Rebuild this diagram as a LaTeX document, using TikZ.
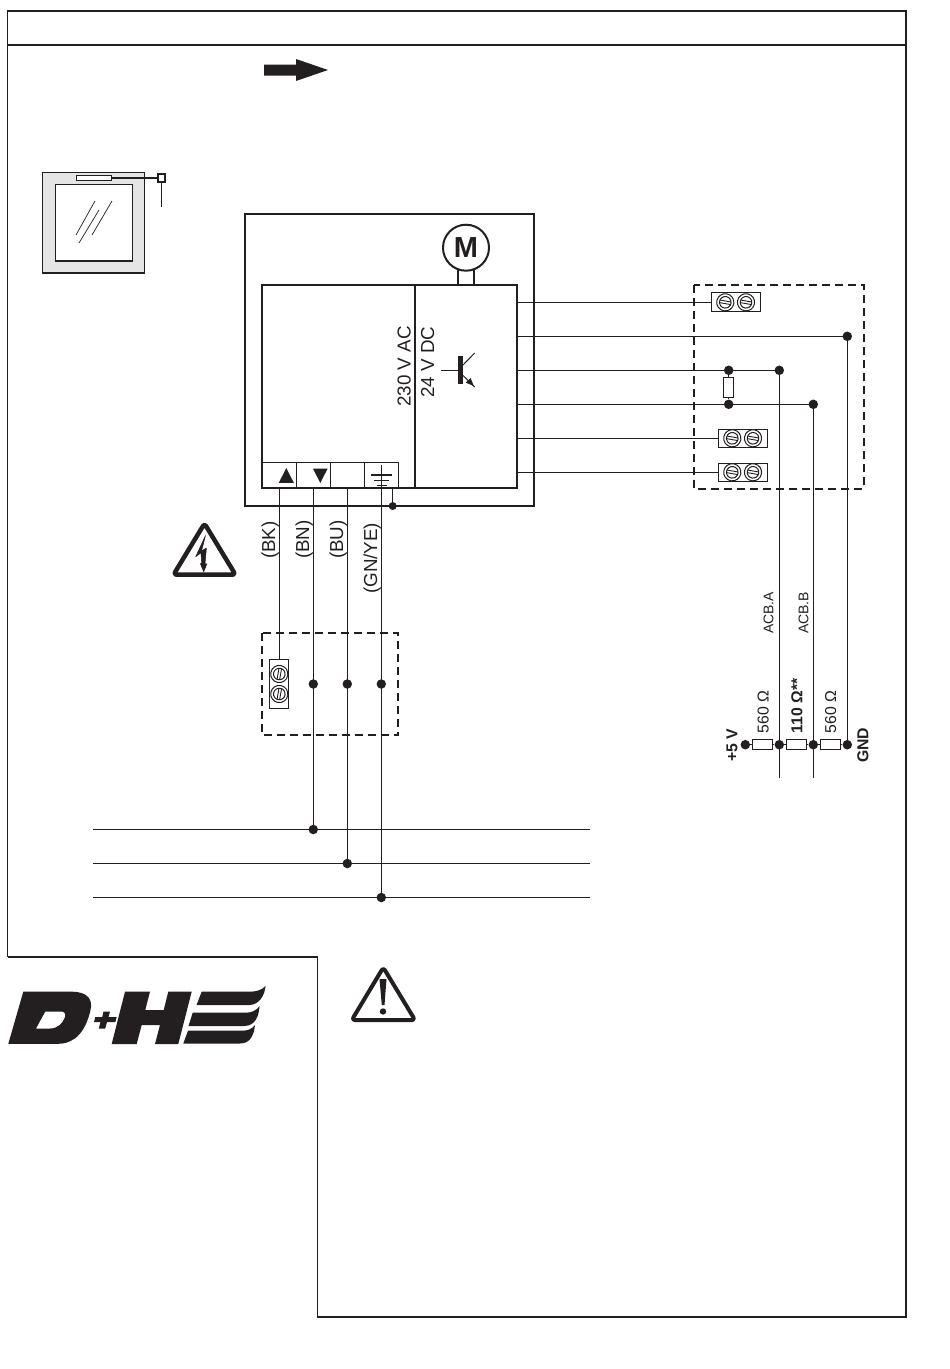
\documentclass[tikz,border=0pt]{standalone}
\usepackage{fontspec}
\setmainfont{Liberation Sans}
\definecolor{ink}{HTML}{231F20}
\tikzset{
  x=1pt,y=-1pt,
  every path/.style={color=ink},
  every node/.style={text=ink},
  frameln/.style={draw=ink,line width=1.1pt},
  boxln/.style={draw=ink,line width=2pt},
  wire/.style={draw=ink,line width=1.1pt},
  thinbox/.style={draw=ink,line width=1.1pt,fill=white,inner sep=0pt,minimum width=#1},
  jdot/.style={circle,fill=ink,draw=none,inner sep=0pt,minimum size=#1},
  jdot/.default=9.5pt,
  dashbox/.style={draw=ink,line width=2pt,dash pattern=on 8pt off 5pt},
  vlabel/.style={rotate=90,anchor=base west,inner sep=0pt,font=\fontsize{18.8}{20}\selectfont},
  vsmall/.style={rotate=90,anchor=base west,inner sep=0pt,font=\fontsize{14}{16}\selectfont},
  vmid/.style={rotate=90,anchor=base west,inner sep=0pt,font=\fontsize{15.8}{18}\selectfont},
  vbold/.style={rotate=90,anchor=base west,inner sep=0pt,font=\bfseries\fontsize{15.8}{18}\selectfont},
}
\newcommand{\screwmark}[3]{%
  \begin{scope}[shift={(#1,#2)},rotate=#3]
    \draw[line width=1pt,fill=white] (0,0) circle[radius=8.6];
    \draw[line width=1pt] (0,0) circle[radius=5.8];
    \draw[line width=.9pt] (-5.6,1.3) -- (5.6,1.3) (-5.6,-1.3) -- (5.6,-1.3);
  \end{scope}}
\begin{document}
\begin{tikzpicture}
\useasboundingbox (0,0) rectangle (950,1369);
% page frame
\draw[frameln] (7.5,957) -- (7.5,11) -- (906,11) -- (906,1317) -- (317.5,1317) -- (317.5,957) -- (7.5,957);
\draw[draw=ink,line width=2pt] (7,45) -- (906.5,45);
% big arrow
\fill[ink] (264,64.5) -- (296,64.5) -- (296,59) -- (328,70) -- (296,81) -- (296,75.5) -- (264,75.5) -- cycle;
% window symbol
\draw[line width=1.1pt,fill=black!10] (42.5,172.5) rectangle (144.5,273);
\draw[line width=1.1pt,fill=white] (55.5,184.5) rectangle (132.5,261);
\node[thinbox=35pt,minimum height=5.5pt] (sensor) at (93.7,178) {};
\node[draw=ink,line width=2pt,fill=white,inner sep=0pt,minimum size=7.5pt] (contact) at (161.7,178) {};
\coordinate (contactend) at (161.7,207);
\draw[wire] (sensor) -- (contact);
\draw[wire] (contact) -- (contactend);
\draw[line width=.7pt] (95,201) -- (76,235) (99,210) -- (79,243) (112,201) -- (92,235);
% wires to the right-hand dashed box
\coordinate (r1) at (517,302.3);
\coordinate (r2) at (517,336.3);
\coordinate (r3) at (517,370.3);
\coordinate (r4) at (517,404.3);
\coordinate (r5) at (517,438.3);
\coordinate (r6) at (517,472.3);
\node[thinbox=49pt,minimum height=19pt] (t1) at (735.8,302.3) {};
\node[thinbox=49pt,minimum height=18pt] (t2) at (742.8,438.3) {};
\node[thinbox=49pt,minimum height=18pt] (t3) at (742.8,472.3) {};
\node[jdot] (jgnd) at (847.3,336.3) {};
\node[jdot] (ja) at (779.3,370.3) {};
\node[jdot] (jb) at (813.3,404.3) {};
\node[jdot] (jra) at (728.7,370.3) {};
\node[jdot] (jrb) at (728.7,404.3) {};
\node[thinbox=10.4pt,minimum height=20.4pt] (rterm) at (728.7,387.5) {};
\draw[wire] (r1) -- (t1.west);
\draw[wire] (r2) -- (jgnd.center);
\draw[wire] (r3) -- (ja.center);
\draw[wire] (r4) -- (jb.center);
\draw[wire] (r5) -- (t2.west);
\draw[wire] (r6) -- (t3.west);
\draw[wire] (jra) -- (rterm) -- (jrb);
\screwmark{725.3}{302.3}{-10}
\screwmark{746}{302.3}{-10}
\screwmark{732.3}{438.3}{-10}
\screwmark{753}{438.3}{-10}
\screwmark{732.3}{472.3}{-10}
\screwmark{753}{472.3}{-10}
\draw[dashbox] (694,285) rectangle (864,488.7);
% ACB bus and termination
\coordinate (aend) at (779.3,778.3);
\coordinate (bend) at (813.3,778.3);
\node[jdot] (b5v) at (745.3,744.7) {};
\node[jdot] (ba) at (779.3,744.7) {};
\node[jdot] (bb) at (813.3,744.7) {};
\node[jdot] (bg) at (847.3,744.7) {};
\node[thinbox=20.4pt,minimum height=10pt] (r560a) at (762.5,744.7) {};
\node[thinbox=20.4pt,minimum height=10pt] (r110) at (796.5,744.7) {};
\node[thinbox=20.4pt,minimum height=10pt] (r560b) at (830.5,744.7) {};
\draw[wire] (ja.center) -- (aend);
\draw[wire] (jb.center) -- (bend);
\draw[wire] (jgnd.center) -- (bg.center);
\draw[wire] (b5v) -- (r560a) -- (ba) -- (r110) -- (bb) -- (r560b) -- (bg);
\node[vsmall] (acba) at (773.3,634) {ACB.A};
\node[vsmall] (acbb) at (808.3,634) {ACB.B};
\node[vmid] (l560a) at (768.6,733.5) {560 Ω};
\node[vbold] (l110) at (802.3,733.5) {110 Ω**};
\node[vmid] (l560b) at (836,733.5) {560 Ω};
\node[vbold] (l5v) at (737.3,762) {+5 V};
\node[vbold] (lgnd) at (868.3,763) {GND};
% main unit
\draw[boxln] (245,214) rectangle (534,505.7);
\coordinate (wbk) at (279.3,488);
\coordinate (wbn) at (313.3,488);
\coordinate (wbu) at (347.3,488);
\coordinate (wgn) at (381.3,465);
\coordinate (pe) at (392.7,488);
\node[jdot=8pt] (pedot) at (392.7,506) {};
\draw[wire] (pe) -- (pedot.center);
% motor
\draw[boxln] (458,268) -- (458,285) (474,268) -- (474,285);
\node[circle,draw=ink,line width=2pt,fill=white,inner sep=0pt,minimum size=46pt,font=\bfseries\fontsize{29}{30}\selectfont] (motor) at (466,247.7) {M};
% control box
\draw[boxln] (262,285) rectangle (517,488);
\draw[boxln] (415,285) -- (415,488);
\draw[line width=1.1pt] (262,462.3) -- (398.7,462.3) -- (398.7,488) (296.7,462.3) -- (296.7,488) (330.7,462.3) -- (330.7,488) (364.7,462.3) -- (364.7,488);
\fill[ink] (286.3,468) -- (293.8,482.8) -- (278.8,482.8) -- cycle;
\fill[ink] (320.3,483) -- (327.6,468.6) -- (313,468.6) -- cycle;
\draw[line width=1.1pt] (371,475) -- (391.7,475) (373.7,480.3) -- (389.3,480.3) (376.7,485.3) -- (386.7,485.3);
\node[vlabel] (l230) at (410.5,407) {230 V AC};
\node[vlabel] (l24) at (434,397.8) {24 V DC};
% transistor
\draw[line width=1pt] (441,370.3) -- (460,370.3);
\fill[ink] (458.3,356) rectangle (462.8,384);
\draw[line width=1pt] (462,366) -- (474.7,353) (462,374.5) -- (474.7,387);
\fill[ink] (473.8,386) -- (465.8,382.6) -- (470.6,378) -- cycle;
% mains wires
\node[draw=ink,line width=1.1pt,fill=white,inner sep=0pt,minimum width=19pt,minimum height=49.3pt] (t4) at (278.8,683.7) {};
\draw[wire] (wbk) -- (t4.north -| wbk);
\screwmark{279.3}{674}{80}
\screwmark{279.3}{694}{80}
\draw[dashbox] (261.7,633) rectangle (398.3,735);
\node[jdot] (mbn) at (313.3,684) {};
\node[jdot] (mbu) at (347.3,684) {};
\node[jdot] (mgn) at (381.3,684) {};
\node[jdot] (nbn) at (313.3,829.5) {};
\node[jdot] (nbu) at (347.3,863.5) {};
\node[jdot] (ngn) at (381.3,897.5) {};
\draw[wire] (wbn) -- (nbn.center);
\draw[wire] (wbu) -- (nbu.center);
\draw[wire] (wgn) -- (ngn.center);
\coordinate (l1a) at (93,829.5); \coordinate (l1b) at (590,829.5);
\coordinate (l2a) at (93,863.5); \coordinate (l2b) at (590,863.5);
\coordinate (l3a) at (93,897.5); \coordinate (l3b) at (590,897.5);
\draw[wire] (l1a) -- (l1b);
\draw[wire] (l2a) -- (l2b);
\draw[wire] (l3a) -- (l3b);
\node[vlabel] (lbk) at (275,559) {(BK)};
\node[vlabel] (lbn) at (309,559) {(BN)};
\node[vlabel] (lbu) at (343,559) {(BU)};
\node[vlabel] (lgy) at (377,594) {(GN/YE)};
% hazard triangle
\draw[line width=4.5pt,line join=round,rounded corners=3pt] (204.5,523.5) -- (235.5,574.7) -- (173.5,574.7) -- cycle;
\filldraw[ink,line width=.5pt,line join=round] (205.5,535.5) -- (195.7,556.7) -- (201,552.8) -- (201.7,564) -- (200.3,563.5) -- (203.7,571.7) -- (206.9,563.8) -- (205,564) -- (206.4,548) -- (201.5,551) -- cycle;
% warning triangle
\draw[line width=4pt,line join=round,rounded corners=3pt] (383.3,967.5) -- (415,1020) -- (351.8,1020) -- cycle;
\fill[ink] (379.5,979) -- (386.5,979) -- (384.5,1005) -- (381.8,1005) -- cycle;
\fill[ink] (383,1011.5) circle[radius=3.2];
% logo
\fill[ink,even odd rule] (8.3,1043.8) -- (23.3,991.7) -- (72,991.7) .. controls (88,991.7) and (93,1000) .. (90.5,1010) .. controls (86,1030) and (76,1043.8) .. (58,1043.8) -- cycle
  (45.3,1011.5) -- (36,1028.5) -- (50,1028.5) .. controls (58,1028.5) and (63,1023) .. (65,1017) .. controls (66,1013) and (64,1011.5) .. (61,1011.5) -- cycle;
\fill[ink] (103.5,1011.7) -- (110,1011.7) -- (108.5,1017) -- (116.7,1017) -- (115.4,1022) -- (107,1022) -- (105.2,1028.5) -- (98.8,1028.5) -- (100.5,1022) -- (94,1022) -- (95.3,1017) -- (102.2,1017) -- cycle;
\fill[ink] (125,991.7) -- (150,991.7) -- (145.3,1010) -- (163.7,1010) -- (168.3,991.7) -- (191.7,991.7) -- (178.3,1044) -- (155,1044) -- (160,1025) -- (141.7,1025) -- (136.7,1044) -- (111.7,1044) -- cycle;
\fill[ink] (201.7,991.7) -- (250,991.7) .. controls (256,991.7) and (262,990) .. (265.5,986) .. controls (265,994) and (260,1005) .. (249,1005) -- (196.5,1005) -- cycle;
\fill[ink] (192.7,1012.7) -- (246,1012.7) .. controls (252,1012.7) and (257,1010) .. (259.5,1006) .. controls (259,1015) and (256,1026) .. (244,1026) -- (188.5,1026) -- cycle;
\fill[ink] (188,1030.7) -- (242,1030.7) .. controls (248,1030.7) and (252,1029) .. (255,1025) .. controls (254,1034) and (251,1043.5) .. (240,1043.5) -- (183.3,1043.5) -- cycle;
\end{tikzpicture}
\end{document}
